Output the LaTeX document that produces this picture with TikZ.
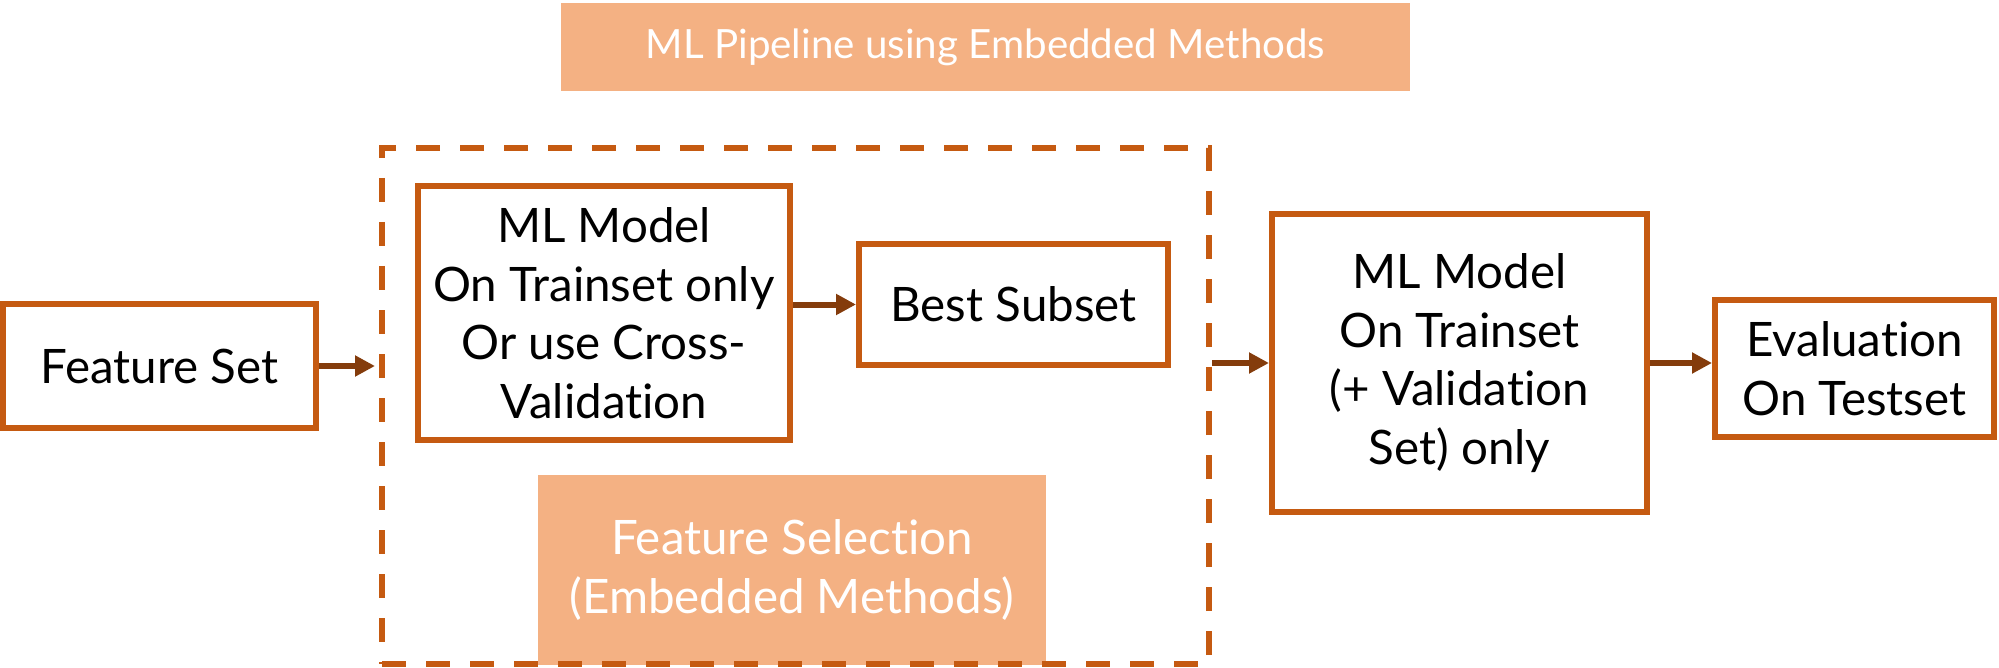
\documentclass[tikz,border=0pt]{standalone}
\usepackage{fontspec}
\setmainfont{Lato}[Ligatures={CommonOff,ContextualOff}]
\usetikzlibrary{arrows.meta}
\definecolor{bord}{HTML}{C55A11}
\definecolor{peach}{HTML}{F4B183}
\definecolor{arr}{HTML}{843C0C}
\begin{document}
\begin{tikzpicture}[x=1pt,y=-1pt,
  box/.style={draw=bord,line width=6pt,fill=white,inner sep=0pt,align=center,
    font=\fontsize{47.5}{58.5}\selectfont},
  peachbox/.style={fill=peach,inner sep=0pt,align=center,text=white},
  conn/.style={draw=arr,line width=6pt,-{Triangle[length=20pt,width=20pt]}}]
\useasboundingbox (0,0) rectangle (1999,668);
% title
\node[peachbox,minimum width=849pt,minimum height=88pt,font=\fontsize{40.3}{48}\selectfont] (title) at (985.5,47) {ML Pipeline using Embedded Methods};
% feature selection label box
\node[peachbox,minimum width=508pt,minimum height=190pt,font=\fontsize{47.5}{58.5}\selectfont] (fsel) at (792,570) {Feature Selection\\(Embedded Methods)};
% dashed frame
\node[draw=bord,line width=6pt,dash pattern=on 24pt off 20pt,minimum width=827pt,minimum height=516pt,inner sep=0pt] (frame) at (795.5,406) {};
% boxes
\node[box,minimum width=313pt,minimum height=124pt] (fs) at (159.5,366) {Feature Set};
\node[box,minimum width=372pt,minimum height=254pt] (ml1) at (604,313) {ML Model\\On Trainset only\\Or use Cross-\\Validation};
\node[box,minimum width=309pt,minimum height=121pt] (best) at (1013.5,304.5) {Best Subset};
\node[box,minimum width=375pt,minimum height=298pt] (ml2) at (1459.5,363) {ML Model\\On Trainset\\(+ Validation\\Set) only};
\node[box,minimum width=279pt,minimum height=137pt] (eval) at (1854.5,368.5) {Evaluation\\On Testset};
% connectors
\draw[conn] (fs.east) -- ([xshift=-4pt]frame.west |- fs.east);
\draw[conn] (ml1.east |- best.west) -- (best.west);
\draw[conn] (frame.east |- ml2.west) -- (ml2.west);
\draw[conn] (ml2.east) -- (ml2.east -| eval.west);
\end{tikzpicture}
\end{document}
